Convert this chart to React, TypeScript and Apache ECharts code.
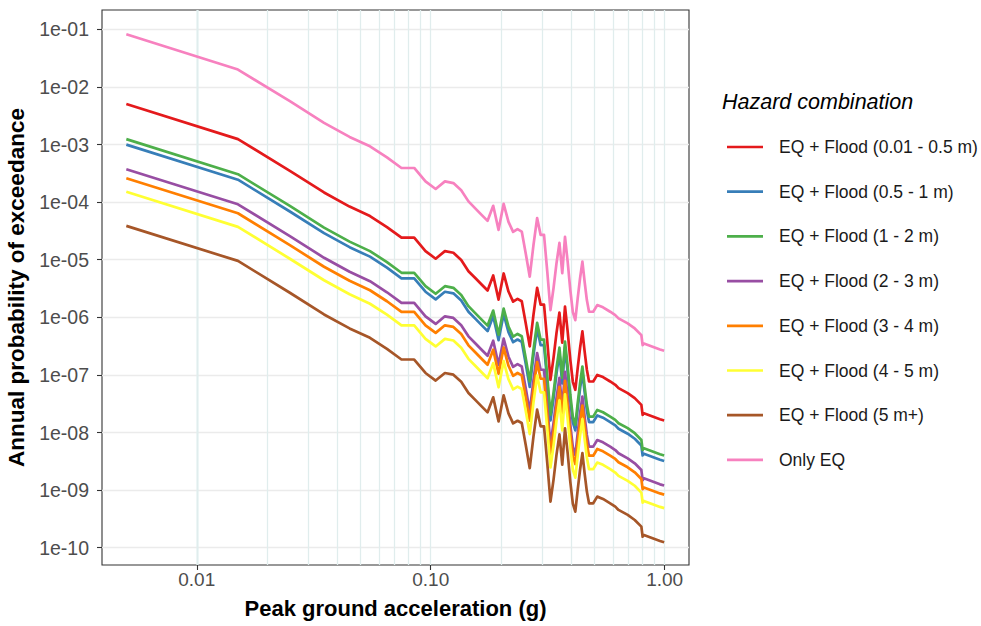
import React, { useEffect, useRef } from 'react';
import * as echarts from 'echarts';

// Peak ground acceleration (g)
const pga = [0.005, 0.015, 0.025, 0.035, 0.045, 0.055, 0.065, 0.075, 0.085, 0.095,
  0.105, 0.115, 0.125, 0.135, 0.145, 0.155, 0.165, 0.175, 0.185, 0.195,
  0.205, 0.215, 0.225, 0.235, 0.245, 0.255, 0.265, 0.275, 0.285, 0.295,
  0.305, 0.315, 0.325, 0.335, 0.345, 0.355, 0.365, 0.375, 0.385, 0.395,
  0.405, 0.415, 0.425, 0.435, 0.445, 0.455, 0.465, 0.475, 0.495, 0.515,
  0.545, 0.585, 0.615, 0.635, 0.695, 0.745, 0.795, 0.805, 0.815, 0.955,
  0.995];

const floodA = [5.05e-3, 1.24e-3, 3.48e-4, 1.47e-4, 8.36e-5, 5.73e-5, 3.69e-5, 2.41e-5, 2.41e-5, 1.41e-5,
  1.04e-5, 1.41e-5, 1.32e-5, 9.91e-6, 6.32e-6, 4.81e-6, 3.71e-6, 2.92e-6, 5.32e-6, 2.03e-6,
  5.77e-6, 2.80e-6, 1.87e-6, 2.09e-6, 1.90e-6, 7.76e-7, 3.13e-7, 1.11e-6, 3.25e-6, 1.66e-6,
  1.66e-6, 3.78e-7, 8.22e-8, 1.99e-7, 5.42e-7, 1.21e-6, 3.62e-7, 1.53e-6, 5.64e-7, 1.84e-7,
  7.60e-8, 5.51e-8, 1.33e-7, 2.96e-7, 5.70e-7, 2.53e-7, 1.23e-7, 7.69e-8, 7.69e-8, 1.00e-7,
  9.16e-8, 7.69e-8, 6.73e-8, 5.90e-8, 4.83e-8, 3.95e-8, 3.02e-8, 2.02e-8, 2.16e-8, 1.70e-8,
  1.62e-8];

const floodB = [9.95e-4, 2.45e-4, 6.87e-5, 2.89e-5, 1.65e-5, 1.13e-5, 7.28e-6, 4.75e-6, 4.75e-6, 2.78e-6,
  2.05e-6, 2.78e-6, 2.61e-6, 1.95e-6, 1.25e-6, 9.48e-7, 7.31e-7, 5.75e-7, 1.05e-6, 4.01e-7,
  1.14e-6, 5.52e-7, 3.70e-7, 4.12e-7, 3.75e-7, 1.53e-7, 6.17e-8, 2.20e-7, 6.41e-7, 3.28e-7,
  3.28e-7, 7.45e-8, 1.62e-8, 3.92e-8, 1.07e-7, 2.38e-7, 7.14e-8, 3.03e-7, 1.11e-7, 3.62e-8,
  1.50e-8, 1.09e-8, 2.62e-8, 5.85e-8, 1.12e-7, 4.99e-8, 2.42e-8, 1.52e-8, 1.52e-8, 1.98e-8,
  1.81e-8, 1.52e-8, 1.33e-8, 1.16e-8, 9.53e-9, 7.80e-9, 5.96e-9, 3.99e-9, 4.27e-9, 3.36e-9,
  3.20e-9];

const floodC = [1.24e-3, 3.05e-4, 8.57e-5, 3.61e-5, 2.06e-5, 1.41e-5, 9.08e-6, 5.93e-6, 5.93e-6, 3.47e-6,
  2.56e-6, 3.47e-6, 3.25e-6, 2.44e-6, 1.56e-6, 1.18e-6, 9.12e-7, 7.18e-7, 1.31e-6, 5.00e-7,
  1.42e-6, 6.89e-7, 4.61e-7, 5.14e-7, 4.68e-7, 1.91e-7, 7.69e-8, 2.74e-7, 8.00e-7, 4.09e-7,
  4.09e-7, 9.29e-8, 2.02e-8, 4.89e-8, 1.33e-7, 2.97e-7, 8.91e-8, 3.78e-7, 1.39e-7, 4.52e-8,
  1.87e-8, 1.36e-8, 3.27e-8, 7.29e-8, 1.40e-7, 6.22e-8, 3.02e-8, 1.89e-8, 1.89e-8, 2.47e-8,
  2.25e-8, 1.89e-8, 1.66e-8, 1.45e-8, 1.19e-8, 9.73e-9, 7.43e-9, 4.98e-9, 5.32e-9, 4.19e-9,
  3.99e-9];

const floodD = [3.72e-4, 9.16e-5, 2.57e-5, 1.08e-5, 6.17e-6, 4.23e-6, 2.72e-6, 1.78e-6, 1.78e-6, 1.04e-6,
  7.67e-7, 1.04e-6, 9.75e-7, 7.31e-7, 4.67e-7, 3.55e-7, 2.74e-7, 2.15e-7, 3.93e-7, 1.50e-7,
  4.26e-7, 2.07e-7, 1.38e-7, 1.54e-7, 1.40e-7, 5.73e-8, 2.31e-8, 8.22e-8, 2.40e-7, 1.23e-7,
  1.23e-7, 2.79e-8, 6.07e-9, 1.47e-8, 4.00e-8, 8.91e-8, 2.67e-8, 1.13e-7, 4.16e-8, 1.36e-8,
  5.61e-9, 4.06e-9, 9.82e-9, 2.19e-8, 4.21e-8, 1.87e-8, 9.06e-9, 5.68e-9, 5.68e-9, 7.41e-9,
  6.76e-9, 5.68e-9, 4.97e-9, 4.36e-9, 3.56e-9, 2.92e-9, 2.23e-9, 1.49e-9, 1.60e-9, 1.26e-9,
  1.20e-9];

const floodE = [2.60e-4, 6.40e-5, 1.79e-5, 7.55e-6, 4.31e-6, 2.95e-6, 1.90e-6, 1.24e-6, 1.24e-6, 7.26e-7,
  5.36e-7, 7.26e-7, 6.81e-7, 5.11e-7, 3.26e-7, 2.48e-7, 1.91e-7, 1.50e-7, 2.74e-7, 1.05e-7,
  2.97e-7, 1.44e-7, 9.66e-8, 1.08e-7, 9.79e-8, 4.00e-8, 1.61e-8, 5.74e-8, 1.67e-7, 8.57e-8,
  8.57e-8, 1.95e-8, 4.24e-9, 1.02e-8, 2.79e-8, 6.22e-8, 1.87e-8, 7.91e-8, 2.90e-8, 9.46e-9,
  3.92e-9, 2.84e-9, 6.85e-9, 1.53e-8, 2.94e-8, 1.30e-8, 6.32e-9, 3.96e-9, 3.96e-9, 5.18e-9,
  4.72e-9, 3.96e-9, 3.47e-9, 3.04e-9, 2.49e-9, 2.04e-9, 1.56e-9, 1.04e-9, 1.11e-9, 8.77e-10,
  8.36e-10];

const floodF = [1.51e-4, 3.72e-5, 1.04e-5, 4.40e-6, 2.51e-6, 1.72e-6, 1.11e-6, 7.23e-7, 7.23e-7, 4.23e-7,
  3.12e-7, 4.23e-7, 3.96e-7, 2.97e-7, 1.90e-7, 1.44e-7, 1.11e-7, 8.75e-8, 1.60e-7, 6.10e-8,
  1.73e-7, 8.39e-8, 5.62e-8, 6.27e-8, 5.70e-8, 2.33e-8, 9.38e-9, 3.34e-8, 9.75e-8, 4.99e-8,
  4.99e-8, 1.13e-8, 2.47e-9, 5.96e-9, 1.63e-8, 3.62e-8, 1.09e-8, 4.60e-8, 1.69e-8, 5.51e-9,
  2.28e-9, 1.65e-9, 3.99e-9, 8.89e-9, 1.71e-8, 7.59e-9, 3.68e-9, 2.31e-9, 2.31e-9, 3.01e-9,
  2.75e-9, 2.31e-9, 2.02e-9, 1.77e-9, 1.45e-9, 1.19e-9, 9.06e-10, 6.07e-10, 6.49e-10, 5.11e-10,
  4.86e-10];

const floodG = [3.87e-5, 9.53e-6, 2.67e-6, 1.12e-6, 6.41e-7, 4.40e-7, 2.83e-7, 1.85e-7, 1.85e-7, 1.08e-7,
  7.98e-8, 1.08e-7, 1.01e-7, 7.60e-8, 4.85e-8, 3.69e-8, 2.84e-8, 2.24e-8, 4.08e-8, 1.56e-8,
  4.43e-8, 2.15e-8, 1.44e-8, 1.60e-8, 1.46e-8, 5.96e-9, 2.40e-9, 8.55e-9, 2.49e-8, 1.28e-8,
  1.28e-8, 2.90e-9, 6.31e-10, 1.52e-9, 4.16e-9, 9.27e-9, 2.78e-9, 1.18e-8, 4.33e-9, 1.41e-9,
  5.83e-10, 4.23e-10, 1.02e-9, 2.28e-9, 4.38e-9, 1.94e-9, 9.42e-10, 5.90e-10, 5.90e-10, 7.71e-10,
  7.03e-10, 5.90e-10, 5.16e-10, 4.53e-10, 3.71e-10, 3.03e-10, 2.32e-10, 1.55e-10, 1.66e-10, 1.31e-10,
  1.24e-10];

const onlyEQ = [8.2e-2, 2.0e-2, 5.65e-3, 2.38e-3, 1.355e-3, 9.29e-4, 5.98e-4, 3.91e-4, 3.91e-4, 2.29e-4,
  1.69e-4, 2.29e-4, 2.14e-4, 1.61e-4, 1.03e-4, 7.80e-5, 6.01e-5, 4.73e-5, 8.63e-5, 3.30e-5,
  9.35e-5, 4.54e-5, 3.04e-5, 3.39e-5, 3.08e-5, 1.26e-5, 5.07e-6, 1.81e-5, 5.27e-5, 2.70e-5,
  2.70e-5, 6.12e-6, 1.33e-6, 3.22e-6, 8.79e-6, 1.96e-5, 5.87e-6, 2.49e-5, 9.14e-6, 2.98e-6,
  1.23e-6, 8.93e-7, 2.16e-6, 4.81e-6, 9.25e-6, 4.10e-6, 1.99e-6, 1.25e-6, 1.25e-6, 1.63e-6,
  1.49e-6, 1.25e-6, 1.09e-6, 9.57e-7, 7.83e-7, 6.41e-7, 4.90e-7, 3.28e-7, 3.51e-7, 2.76e-7,
  2.63e-7];

const seriesNames = [
  'EQ + Flood (0.01 - 0.5 m)',
  'EQ + Flood (0.5 - 1 m)',
  'EQ + Flood (1 - 2 m)',
  'EQ + Flood (2 - 3 m)',
  'EQ + Flood (3 - 4 m)',
  'EQ + Flood (4 - 5 m)',
  'EQ + Flood (5 m+)',
  'Only EQ',
];
const seriesValues = [floodA, floodB, floodC, floodD, floodE, floodF, floodG, onlyEQ];
const seriesColors = ['#E41A1C', '#377EB8', '#4DAF4A', '#984EA3', '#FF7F00', '#FFFF33', '#A65628', '#F781BF'];

const xTickValues = [0.01, 0.1, 1];
const yTickValues = [1e-10, 1e-9, 1e-8, 1e-7, 1e-6, 1e-5, 1e-4, 1e-3, 1e-2, 1e-1];
const xGridValues = [0.005, 0.006, 0.007, 0.008, 0.009,
  0.01, 0.02, 0.03, 0.04, 0.05, 0.06, 0.07, 0.08, 0.09,
  0.1, 0.2, 0.3, 0.4, 0.5, 0.6, 0.7, 0.8, 0.9, 1];

const FONT = "'Liberation Sans', Arial, Helvetica, sans-serif";

const isDecade = (v: number) => {
  const l = Math.log10(v);
  return Math.abs(l - Math.round(l)) < 1e-6;
};

export default function App() {
  const ref = useRef<HTMLDivElement>(null);

  useEffect(() => {
    if (!ref.current) return;
    const chart = echarts.init(ref.current, null, { renderer: 'svg' });

    const lineSeries = seriesNames.map((name, i) => ({
      type: 'line',
      name,
      data: pga.map((x, j) => [x, seriesValues[i][j]]),
      showSymbol: false,
      symbol: 'none',
      color: seriesColors[i],
      lineStyle: { color: seriesColors[i], width: 2.7, cap: 'butt', join: 'round' },
      emphasis: { disabled: true },
      silent: true,
      z: 3,
    }));

    const option: any = {
      animation: false,
      backgroundColor: '#ffffff',
      textStyle: { fontFamily: FONT },
      title: {
        text: 'Hazard combination',
        left: 722,
        top: 91,
        padding: 0,
        textStyle: { fontFamily: FONT, fontSize: 21.5, fontStyle: 'italic', fontWeight: 'normal', color: '#000000' },
      },
      legend: {
        orient: 'vertical',
        left: 727,
        top: 137,
        padding: 0,
        icon: 'rect',
        itemWidth: 36,
        itemHeight: 2.7,
        itemGap: 24.7,
        selectedMode: false,
        data: seriesNames,
        textStyle: { fontFamily: FONT, fontSize: 17.5, color: '#1A1A1A', lineHeight: 20, padding: [0, 0, 0, 11] },
      },
      grid: {
        left: 102,
        top: 10,
        width: 587,
        height: 555,
        show: true,
        borderColor: '#333333',
        borderWidth: 1.1,
        backgroundColor: 'transparent',
        containLabel: false,
        outerBoundsMode: 'none',
      },
      xAxis: {
        type: 'log',
        logBase: 10,
        min: Math.pow(10, -2.405),
        max: Math.pow(10, 0.104),
        name: 'Peak ground acceleration (g)',
        nameLocation: 'middle',
        nameGap: 32,
        nameTextStyle: { fontFamily: FONT, fontSize: 22, fontWeight: 'bold', color: '#000000', verticalAlign: 'top' },
        axisLine: { show: false },
        axisTick: { show: true, length: 5, lineStyle: { color: '#333333', width: 1.1 }, customValues: xTickValues },
        axisLabel: {
          customValues: xTickValues,
          fontFamily: FONT,
          fontSize: 19,
          color: '#4D4D4D',
          margin: 5,
          formatter: (v: number) => (isDecade(v) ? v.toFixed(2) : ''),
        },
        splitLine: { show: false },
        minorTick: { show: false },
        minorSplitLine: { show: false },
      },
      yAxis: {
        type: 'log',
        logBase: 10,
        min: Math.pow(10, -10.3),
        max: Math.pow(10, -0.665),
        name: 'Annual probability of exceedance',
        nameLocation: 'middle',
        nameRotate: 90,
        nameGap: 65,
        nameTextStyle: { fontFamily: FONT, fontSize: 22.5, fontWeight: 'bold', color: '#000000' },
        axisLine: { show: false },
        axisTick: { show: true, length: 5, lineStyle: { color: '#333333', width: 1.1 }, customValues: yTickValues },
        axisLabel: {
          customValues: yTickValues,
          fontFamily: FONT,
          fontSize: 19.5,
          color: '#4D4D4D',
          margin: 13,
          formatter: (v: number) => {
            if (!isDecade(v)) return '';
            const e = Math.round(Math.log10(v));
            const a = Math.abs(e);
            return '1e' + (e < 0 ? '-' : '+') + (a < 10 ? '0' + a : String(a));
          },
        },
        splitLine: { show: true, lineStyle: { color: '#EBEBEB', width: 1.3 } },
        minorTick: { show: false },
        minorSplitLine: { show: false },
      },
      series: [
        {
          type: 'line',
          name: 'xgrid',
          data: [],
          silent: true,
          z: 1,
          markLine: {
            silent: true,
            z: 1,
            symbol: ['none', 'none'],
            label: { show: false },
            emphasis: { disabled: true },
            lineStyle: { color: '#E0EDED', width: 1.3, type: 'solid' },
            data: xGridValues.map((v) => ({ xAxis: v })),
          },
        },
        ...lineSeries,
      ],
    };

    chart.setOption(option);
    return () => chart.dispose();
  }, []);

  return <div ref={ref} style={{ position: 'absolute', left: 0, top: 0, width: 981, height: 626 }} />;
}
